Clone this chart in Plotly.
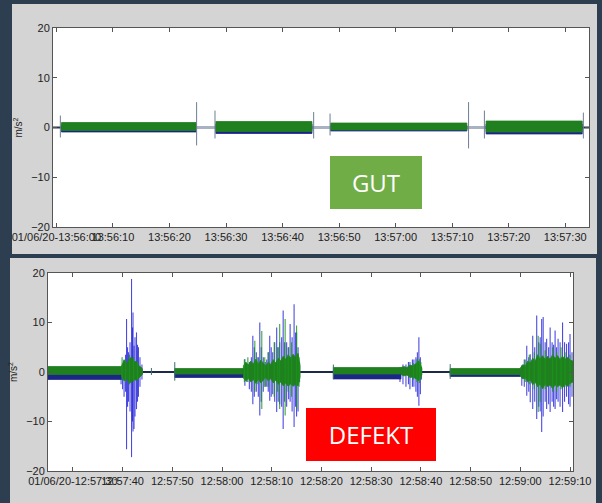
import pandas as pd
import plotly.graph_objects as go

W, H = 602, 503

# ---------------- data (seconds after the start time) ----------------
TOP_START = "2020-06-01 13:56:00"
BOT_START = "2020-06-01 12:57:30"

TOP_TICK_SEC = [0, 10, 20, 30, 40, 50, 60, 70, 80, 90]
TOP_TICK_LABELS = ["01/06/20-13:56:00", "13:56:10", "13:56:20", "13:56:30", "13:56:40",
                   "13:56:50", "13:57:00", "13:57:10", "13:57:20", "13:57:30"]
BOT_TICK_SEC = [0, 10, 20, 30, 40, 50, 60, 70, 80, 90, 100]
BOT_TICK_LABELS = ["01/06/20-12:57:30", "12:57:40", "12:57:50", "12:58:00", "12:58:10",
                   "12:58:20", "12:58:30", "12:58:40", "12:58:50", "12:59:00", "12:59:10"]
Y_TICKS = [-20, -10, 0, 10, 20]

# top panel (GUT): steady segments
TOP_SEG_T0 = [0.9, 28.2, 48.5, 76.0]
TOP_SEG_T1 = [24.7, 45.2, 72.6, 93.0]
TOP_GREEN_HI = [1.0, 1.2, 0.9, 1.3]
TOP_GREEN_LO = [-0.6, -0.8, -0.5, -0.9]
TOP_BLUE_HI = [0.5, 0.7, 0.4, 0.7]
TOP_BLUE_LO = [-0.9, -1.2, -0.7, -1.3]
TOP_GAP_T0 = [24.7, 45.2, 72.6]
TOP_GAP_T1 = [28.2, 48.5, 76.0]
TOP_END_T0 = [-0.6, 93.0]
TOP_END_T1 = [0.9, 94.2]
TOP_MARK_T = [0.7, 24.8, 28.05, 45.5, 48.4, 72.9, 75.7, 93.2]
TOP_MARK_HI = [2.4, 5.1, 3.4, 3.1, 2.8, 5.1, 3.4, 3.0]
TOP_MARK_LO = [-2.0, -3.6, -2.2, -2.2, -1.6, -4.2, -2.2, -2.2]

# bottom panel (DEFEKT): steady segments
BOT_SEG_T0 = [-5.0, 20.5, 52.4, 75.9]
BOT_SEG_T1 = [9.8, 34.3, 66.0, 90.0]
BOT_BLUE_HI = [0.4, 0.3, 0.3, 0.3]
BOT_BLUE_LO = [-1.5, -1.1, -1.4, -0.9]
BOT_GREEN_HI = [1.1, 0.7, 0.9, 0.7]
BOT_GREEN_LO = [-0.5, -0.4, -0.4, -0.5]
BOT_GAP_T0 = [14.0, 45.7, 70.2]
BOT_GAP_T1 = [20.5, 52.4, 75.9]
BOT_MARK_T = [15.8, 20.5, 52.4, 75.9]
BOT_MARK_HI = [0.8, 2.0, 1.5, 1.6]
BOT_MARK_LO = [-0.6, -1.75, -1.5, -1.4]

# bottom panel: green burst envelopes
BOT_GREEN_CORE_T = [
    [9.8, 10.3, 10.8, 11.3, 11.8, 12.3, 12.8, 13.3, 13.7, 14.0],
    [34.3, 34.8, 35.3, 35.8, 36.3, 36.8, 37.3, 37.8, 38.3, 38.8, 39.3, 39.8, 40.3, 40.8,
     41.3, 41.8, 42.3, 42.8, 43.3, 43.8, 44.3, 44.8, 45.3, 45.7],
    [66.0, 66.6, 67.2, 67.8, 68.4, 69.0, 69.6, 70.2],
    [90.0, 90.5, 91.0, 91.5, 92.0, 92.5, 93.0, 93.5, 94.0, 94.5, 95.0, 95.5, 96.0, 96.5,
     97.0, 97.5, 98.0, 98.5, 99.0, 99.5, 100.0, 100.6],
]
BOT_GREEN_CORE_HI = [
    [1.2, 2.4, 1.6, 2.6, 3.0, 2.0, 2.2, 1.2, 1.0, 0.6],
    [1.2, 2.0, 1.4, 2.2, 1.6, 2.6, 1.5, 2.4, 1.8, 1.2, 2.0, 1.5, 2.5, 1.8,
     2.8, 2.2, 3.2, 2.5, 3.5, 2.8, 3.6, 3.0, 3.8, 1.2],
    [0.9, 1.1, 0.9, 1.4, 1.2, 1.8, 2.2, 0.8],
    [0.8, 1.5, 1.2, 2.2, 1.8, 2.8, 2.2, 3.5, 2.6, 3.3, 2.5, 3.2, 2.6, 3.5,
     2.8, 3.3, 2.5, 3.2, 2.6, 3.0, 2.4, 2.2],
]
BOT_GREEN_CORE_LO = [
    [-0.8, -1.8, -1.3, -2.2, -2.0, -1.5, -1.7, -1.0, -0.8, -0.5],
    [-1.2, -1.8, -1.3, -2.0, -1.5, -2.3, -1.4, -2.2, -1.6, -1.1, -1.8, -1.3, -2.2, -1.6,
     -2.5, -2.0, -2.8, -2.2, -2.9, -2.4, -2.9, -2.5, -2.8, -1.0],
    [-0.5, -0.8, -0.6, -1.1, -1.0, -1.4, -1.7, -0.6],
    [-0.8, -1.4, -1.2, -2.0, -1.6, -2.6, -2.0, -3.0, -2.4, -3.4, -2.5, -3.0, -2.6, -3.4,
     -2.6, -3.0, -2.6, -3.2, -2.5, -2.9, -2.3, -2.0],
]

# bottom panel: individual peaks
BOT_BLUE_SPIKE_T = [9.7, 10.0, 10.3, 10.6, 10.8, 11.0, 11.2, 11.5, 11.8, 12.0, 12.1, 12.3, 12.5,
                    12.8, 13.0, 13.2, 13.5, 13.9,
                    34.6, 35.0, 35.5, 35.9, 36.2, 36.5, 36.9, 37.3, 37.6, 37.9, 38.3, 38.7, 39.0,
                    39.3, 39.6, 39.9, 40.2, 40.6, 41.0, 41.3, 41.6, 42.0, 42.3, 42.6, 43.0, 43.4,
                    43.7, 44.1, 44.5, 44.8, 45.0, 45.3, 45.6,
                    65.8, 66.4, 67.0, 67.5, 67.8, 68.3, 68.6, 69.0, 69.3, 69.6, 69.9, 70.1,
                    90.3, 90.8, 91.3, 91.7, 92.0, 92.5, 92.9, 93.3, 93.7, 94.0, 94.3, 94.6, 95.0,
                    95.3, 95.7, 96.0, 96.4, 96.7, 97.0, 97.3, 97.6, 98.0, 98.5, 98.9, 99.3, 99.7,
                    100.0, 100.4]
BOT_BLUE_SPIKE_HI = [0.8, 1.5, 2.5, 3.5, 10.7, 5.0, 4.0, 6.0, 18.8, 9.0, 12.0, 5.3, 7.0,
                     8.0, 5.5, 5.0, 3.0, 1.5,
                     2.6, 1.5, 2.0, 3.0, 7.3, 5.0, 4.0, 3.0, 10.0, 5.0, 3.0, 2.0, 2.5,
                     4.0, 7.3, 5.0, 4.0, 6.0, 9.0, 5.0, 6.0, 7.0, 12.4, 6.0, 6.0, 5.0,
                     9.7, 7.0, 13.7, 8.0, 8.0, 5.0, 2.0,
                     1.0, 1.5, 1.5, 2.0, 2.0, 2.5, 2.5, 3.0, 4.0, 7.0, 3.0, 1.0,
                     1.3, 2.5, 5.3, 3.0, 3.6, 7.3, 5.0, 11.4, 6.0, 7.0, 10.7, 11.1, 6.0,
                     6.7, 5.0, 9.0, 6.0, 5.5, 8.4, 5.0, 6.7, 6.0, 10.0, 6.0, 5.7, 6.0,
                     7.7, 4.0]
BOT_BLUE_SPIKE_LO = [-2.5, -3.5, -5.0, -4.0, -15.6, -7.0, -6.0, -8.0, -17.2, -10.0, -12.0, -11.5, -9.0,
                     -7.5, -6.0, -5.0, -3.0, -1.5,
                     -2.8, -2.0, -3.5, -4.0, -6.5, -5.0, -4.0, -5.0, -8.8, -6.0, -4.0, -3.0, -3.0,
                     -4.0, -5.8, -5.0, -4.5, -6.0, -8.1, -6.0, -6.5, -7.0, -11.5, -6.0, -7.0, -5.5,
                     -6.0, -8.0, -11.1, -7.0, -9.0, -8.0, -2.0,
                     -2.0, -2.5, -3.0, -2.5, -3.5, -3.0, -3.0, -4.0, -5.0, -6.8, -4.5, -1.5,
                     -2.8, -3.0, -4.8, -4.0, -6.1, -7.5, -6.0, -9.5, -7.0, -8.0, -12.1, -9.0, -6.0,
                     -7.5, -6.5, -8.1, -6.0, -7.0, -7.5, -5.5, -6.0, -7.0, -8.1, -6.0, -5.0, -6.5,
                     -7.0, -5.0]
BOT_GREEN_SPIKE_T = [9.9, 10.6, 11.4, 12.2, 13.0,
                     34.5, 35.2, 36.6, 37.2, 38.0, 38.6, 39.3, 40.5, 41.2, 41.6, 42.7, 43.3, 44.0,
                     45.0, 45.5,
                     68.5, 69.2, 69.7, 70.0,
                     91.0, 91.8, 92.8, 93.6, 94.0, 95.0, 96.5, 97.3, 98.2, 99.0, 100.0]
BOT_GREEN_SPIKE_HI = [3.0, 2.5, 3.5, 3.0, 2.0,
                      2.6, 3.0, 6.3, 3.0, 8.3, 3.0, 4.0, 6.0, 5.0, 9.7, 10.7, 5.0, 6.0,
                      9.4, 3.0,
                      1.8, 2.6, 2.6, 2.0,
                      2.5, 3.5, 4.0, 7.3, 5.7, 4.4, 5.0, 4.0, 5.0, 4.0, 3.5]
BOT_GREEN_SPIKE_LO = [-1.5, -2.0, -2.5, -2.0, -1.5,
                      -2.0, -2.0, -4.0, -2.5, -7.5, -3.0, -3.0, -5.0, -4.0, -7.5, -8.8, -4.0, -5.0,
                      -7.5, -3.0,
                      -1.5, -2.0, -2.2, -1.5,
                      -2.0, -2.5, -3.5, -8.1, -6.0, -3.5, -4.0, -4.0, -3.5, -3.0, -3.0]

# ---------------- styling ----------------
BG = "#2D3E50"
PANEL = "#D4D4D4"
BLUE_BAND = "rgb(28,38,135)"
GREEN_BAND = "rgb(32,128,32)"
BLUE_LINE = "rgba(30,30,215,0.8)"
GREEN_LINE = "rgba(25,150,25,0.85)"
TICK_FONT = dict(family="Liberation Sans, Arial, sans-serif", size=11, color="#222222")


def ts(base, secs):
    b = pd.Timestamp(base)
    return [(b + pd.Timedelta(seconds=s)).strftime("%Y-%m-%d %H:%M:%S.%f") for s in secs]


def rect_band(base, t0s, t1s, his, los):
    xs, ys = [], []
    for a, b, h, l in zip(t0s, t1s, his, los):
        xs += ts(base, [a, b, b, a, a]) + [None]
        ys += [h, h, l, l, h, None]
    return xs, ys


def env_band(base, tlist, hilist, lolist):
    xs, ys = [], []
    for t, h, l in zip(tlist, hilist, lolist):
        xs += ts(base, list(t) + list(t[::-1]) + [t[0]]) + [None]
        ys += list(h) + list(l[::-1]) + [h[0], None]
    return xs, ys


def spikes(base, t, hi, lo):
    xs, ys = [], []
    for x, h, l in zip(ts(base, t), hi, lo):
        xs += [x, x, None]
        ys += [h, l, None]
    return xs, ys


def hlines(base, t0s, t1s):
    xs, ys = [], []
    for a, b in zip(t0s, t1s):
        xs += ts(base, [a, b]) + [None]
        ys += [0, 0, None]
    return xs, ys


fig = go.Figure()


def add_fill(xy, color, ax):
    fig.add_trace(go.Scatter(x=xy[0], y=xy[1], mode="lines", fill="toself", fillcolor=color,
                             line=dict(color=color, width=0.8), xaxis=ax[0], yaxis=ax[1],
                             hoverinfo="skip", showlegend=False))


def add_line(xy, color, width, ax):
    fig.add_trace(go.Scatter(x=xy[0], y=xy[1], mode="lines", line=dict(color=color, width=width),
                             xaxis=ax[0], yaxis=ax[1], hoverinfo="skip", showlegend=False))


TOP = ("x", "y")
BOT = ("x2", "y2")

# top panel
add_line(hlines(TOP_START, TOP_GAP_T0, TOP_GAP_T1), "rgb(168,178,192)", 3, TOP)
add_line(hlines(TOP_START, TOP_END_T0, TOP_END_T1), "rgb(40,50,80)", 2, TOP)
add_fill(rect_band(TOP_START, TOP_SEG_T0, TOP_SEG_T1, TOP_BLUE_HI, TOP_BLUE_LO), BLUE_BAND, TOP)
add_fill(rect_band(TOP_START, TOP_SEG_T0, TOP_SEG_T1, TOP_GREEN_HI, TOP_GREEN_LO), GREEN_BAND, TOP)
add_line(spikes(TOP_START, TOP_MARK_T, TOP_MARK_HI, TOP_MARK_LO), "rgb(110,125,150)", 1, TOP)

# bottom panel
add_line(hlines(BOT_START, BOT_GAP_T0, BOT_GAP_T1), "rgb(30,40,75)", 2, BOT)
add_fill(rect_band(BOT_START, BOT_SEG_T0, BOT_SEG_T1, BOT_BLUE_HI, BOT_BLUE_LO), BLUE_BAND, BOT)
add_line(spikes(BOT_START, BOT_BLUE_SPIKE_T, BOT_BLUE_SPIKE_HI, BOT_BLUE_SPIKE_LO), BLUE_LINE, 1.1, BOT)
add_fill(rect_band(BOT_START, BOT_SEG_T0, BOT_SEG_T1, BOT_GREEN_HI, BOT_GREEN_LO), GREEN_BAND, BOT)
add_fill(env_band(BOT_START, BOT_GREEN_CORE_T, BOT_GREEN_CORE_HI, BOT_GREEN_CORE_LO), GREEN_BAND, BOT)
add_line(spikes(BOT_START, BOT_GREEN_SPIKE_T, BOT_GREEN_SPIKE_HI, BOT_GREEN_SPIKE_LO), GREEN_LINE, 1.1, BOT)
add_line(spikes(BOT_START, BOT_MARK_T, BOT_MARK_HI, BOT_MARK_LO), "rgb(60,110,110)", 1, BOT)


def xaxis(base, rng, ticks, labels, dom, anchor):
    return dict(type="date", domain=dom, range=ts(base, rng), tickmode="array",
                tickvals=ts(base, ticks), ticktext=labels, ticks="inside", ticklen=4,
                tickcolor="#555555", showline=True, linecolor="#555555", linewidth=1,
                mirror="ticks", showgrid=False, zeroline=False, tickfont=TICK_FONT,
                tickangle=0, fixedrange=True, automargin=False, anchor=anchor)


def yaxis(dom, anchor):
    return dict(domain=dom, range=[-20, 20], tickmode="array", tickvals=Y_TICKS,
                ticks="inside", ticklen=4, tickcolor="#555555", showline=True,
                linecolor="#555555", linewidth=1, mirror="ticks", showgrid=False,
                zeroline=False, tickfont=TICK_FONT, anchor=anchor, automargin=False,
                title=dict(text="m/s<sup>2</sup>", font=dict(family="Liberation Sans, Arial", size=10,
                                                             color="#222222"), standoff=6),
                fixedrange=True)


fig.update_layout(
    width=W, height=H,
    margin=dict(l=0, r=0, t=0, b=0, pad=0, autoexpand=False),
    paper_bgcolor=BG, plot_bgcolor="white",
    showlegend=False,
    xaxis=xaxis(TOP_START, [-0.6, 94.2], TOP_TICK_SEC, TOP_TICK_LABELS, [53 / W, 589 / W], "y"),
    yaxis=yaxis([1 - 227 / H, 1 - 28 / H], "x"),
    xaxis2=xaxis(BOT_START, [-5.0, 100.6], BOT_TICK_SEC, BOT_TICK_LABELS, [48 / W, 573 / W], "y2"),
    yaxis2=yaxis([1 - 471 / H, 1 - 273 / H], "x2"),
    shapes=[
        dict(type="rect", xref="paper", yref="paper", x0=12 / W, x1=597 / W, y0=1 - 254 / H,
             y1=1 - 4 / H, fillcolor=PANEL, line=dict(width=0), layer="below"),
        dict(type="rect", xref="paper", yref="paper", x0=10 / W, x1=596 / W, y0=0,
             y1=1 - 258 / H, fillcolor=PANEL, line=dict(width=0), layer="below"),
        dict(type="rect", xref="x domain", yref="y domain", x0=0, x1=1, y0=0, y1=1,
             fillcolor="white", line=dict(width=0), layer="below"),
        dict(type="rect", xref="x2 domain", yref="y2 domain", x0=0, x1=1, y0=0, y1=1,
             fillcolor="white", line=dict(width=0), layer="below"),
    ],
    annotations=[
        dict(text="GUT", xref="paper", yref="paper", x=375.8 / W, y=1 - 182.5 / H,
             xanchor="center", yanchor="middle", showarrow=False, bgcolor="#70AD47",
             width=92, height=53, borderpad=0, borderwidth=0,
             font=dict(family="Open Sans, Noto Sans", size=24, color="white")),
        dict(text="DEFEKT", xref="paper", yref="paper", x=371 / W, y=1 - 434 / H,
             xanchor="center", yanchor="middle", showarrow=False, bgcolor="#FF0000",
             width=130, height=53, borderpad=0, borderwidth=0,
             font=dict(family="Open Sans, Noto Sans", size=24, color="white")),
    ],
)

fig.write_html("out.html", config={"displayModeBar": False},
               post_script="document.body.style.margin='0px';document.body.style.overflow='hidden';"
                           "document.body.style.background='" + BG + "';")
